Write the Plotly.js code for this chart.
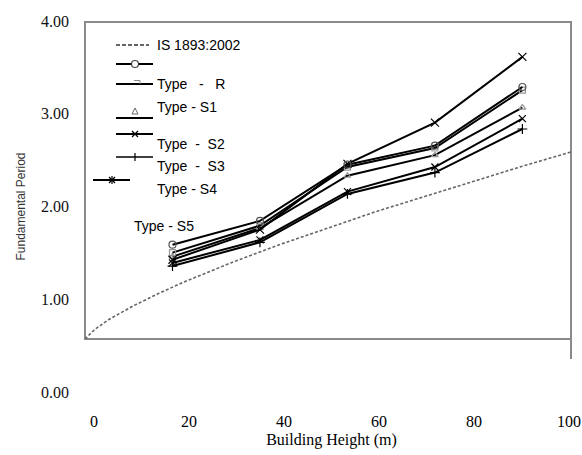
<!DOCTYPE html>
<html>
<head>
<meta charset="utf-8">
<script src="https://cdn.plot.ly/plotly-3.0.1.min.js"></script>
<style>html,body{margin:0;padding:0;background:#fff;}#chart{width:582px;height:455px;}</style>
</head>
<body>
<div id="chart"></div>
<script>
// ---- data ----
const heights = [18, 36, 54, 72, 90];
const typeR  = [1.19, 1.49, 2.20, 2.44, 3.18];
const typeS1 = [1.09, 1.43, 2.17, 2.41, 3.14];
const typeS2 = [1.04, 1.40, 2.06, 2.32, 2.92];
const typeS3 = [0.96, 1.25, 1.86, 2.17, 2.78];
const typeS4 = [0.92, 1.22, 1.83, 2.10, 2.65];
const typeS5 = [1.00, 1.38, 2.21, 2.73, 3.56];
const isHeights = [0, 2, 5, 10, 15, 20, 30, 40, 50, 60, 70, 80, 90, 100];
const isPeriod  = [0, 0.12, 0.25, 0.42, 0.57, 0.71, 0.96, 1.19, 1.40, 1.61, 1.80, 1.99, 2.18, 2.36];
const xTickVals = [0, 20, 40, 60, 80, 100];
const yTickVals = [0, 1, 2, 3, 4];
const yTickText = ['0.00', '1.00', '2.00', '3.00', '4.00'];
const legendLabels = ['IS 1893:2002', 'Type\u00a0\u00a0\u00a0-\u00a0\u00a0\u00a0R', 'Type - S1', 'Type\u00a0\u00a0-\u00a0\u00a0S2', 'Type\u00a0\u00a0-\u00a0\u00a0S3', 'Type - S4', 'Type - S5'];

const W = 582, H = 455;
const px = x => x / W;
const py = y => 1 - y / H;

// plot-area frame of the inner chart (pixels)
const box = {left: 85, right: 571, top: 22, bottom: 339};

function series(y, symbol, mcolor, msize) {
  return {
    x: heights, y: y, xaxis: 'x2', yaxis: 'y2', type: 'scatter', mode: 'lines+markers',
    line: {color: '#000', width: 2},
    marker: {symbol: symbol, size: msize, color: mcolor, line: {color: mcolor, width: 1.2}},
    showlegend: false, hoverinfo: 'skip'
  };
}

const data = [
  {x: [], y: [], xaxis: 'x', yaxis: 'y', type: 'scatter', showlegend: false},
  {x: isHeights, y: isPeriod, xaxis: 'x2', yaxis: 'y2', type: 'scatter', mode: 'lines',
   line: {color: '#666', width: 1.6, dash: '3px,2px'}, showlegend: false, hoverinfo: 'skip'},
  series(typeS4, 'cross-thin-open', '#000', 7),
  series(typeS3, 'x-thin-open', '#000', 7),
  series(typeS2, 'triangle-up-open', '#999', 6),
  series(typeS1, 'square-open', '#999', 6),
  series(typeS5, 'x-thin-open', '#000', 8),
  series(typeR, 'circle-open', '#555', 7)
];

// ---- frame and custom (misaligned) legend, built from shapes and annotations ----
const shapes = [];
const annotations = [];
function seg(x0, y0, x1, y1, color, width, dash) {
  shapes.push({type: 'line', xref: 'paper', yref: 'paper', x0: px(x0), y0: py(y0), x1: px(x1), y1: py(y1),
    line: {color: color, width: width, dash: dash || 'solid'}});
}
function label(x, y, text) {
  annotations.push({xref: 'paper', yref: 'paper', x: px(x), y: py(y), text: text, showarrow: false,
    xanchor: 'left', yanchor: 'middle', font: {family: 'Liberation Sans, Arial, sans-serif', size: 14, color: '#000'}});
}
// frame
shapes.push({type: 'rect', xref: 'paper', yref: 'paper', x0: px(box.left), x1: px(box.right), y0: py(box.bottom), y1: py(box.top),
  line: {color: '#8a8a8a', width: 2}, fillcolor: 'rgba(0,0,0,0)', layer: 'below'});
seg(box.right, box.bottom, box.right, box.bottom + 20, '#8a8a8a', 2);
// dashed sample
seg(116, 45, 149, 45, '#333', 1.6, '4px,2px');
label(155, 45, legendLabels[0]);
// circle sample
seg(116, 64, 153, 64, '#000', 2);
shapes.push({type: 'circle', xref: 'paper', yref: 'paper', x0: px(131.5), x1: px(138.5), y0: py(60.5), y1: py(67.5), line: {color: '#444', width: 1.2}, fillcolor: '#fff'});
// square-ish sample
seg(116, 84, 153, 84, '#000', 2);
seg(134, 80.5, 140, 80.5, '#888', 1);
seg(140, 80.5, 140, 84, '#888', 1);
label(155, 84, legendLabels[1]);
label(155, 107, legendLabels[2]);
// triangle sample
seg(116, 118, 153, 118, '#000', 2);
shapes.push({type: 'path', xref: 'paper', yref: 'paper', path: 'M' + px(132) + ',' + py(114) + ' L' + px(138) + ',' + py(114) + ' L' + px(135) + ',' + py(108) + ' Z', line: {color: '#666', width: 1}});
// x sample
seg(116, 134, 153, 134, '#000', 2);
seg(132, 131, 138, 137, '#000', 1.3);
seg(132, 137, 138, 131, '#000', 1.3);
label(155, 144, legendLabels[3]);
// + sample
seg(116, 157, 153, 157, '#000', 1.6);
seg(135, 153, 135, 161, '#000', 1.2);
label(155, 166, legendLabels[4]);
// asterisk sample
seg(93, 180, 130, 180, '#000', 2);
seg(109, 177, 115, 183, '#000', 1.3);
seg(109, 183, 115, 177, '#000', 1.3);
seg(112, 176, 112, 184, '#000', 1.2);
label(155, 189, legendLabels[5]);
label(132, 226, legendLabels[6]);

const layout = {
  width: W, height: H,
  margin: {l: 0, r: 0, t: 0, b: 0},
  paper_bgcolor: '#fff', plot_bgcolor: 'rgba(0,0,0,0)',
  showlegend: false,
  xaxis: {
    domain: [px(94), px(569)], range: [0, 100], anchor: 'y',
    tickvals: xTickVals, ticks: '', showline: false, showgrid: false, zeroline: false,
    ticklabelstandoff: 18, automargin: false,
    tickfont: {family: 'Liberation Serif, Times New Roman, serif', size: 16, color: '#000'},
    title: {text: 'Building Height (m)', standoff: 4, font: {family: 'Liberation Serif, Times New Roman, serif', size: 16, color: '#000'}}
  },
  yaxis: {
    domain: [py(392), py(21)], range: [0, 4], anchor: 'x',
    tickvals: yTickVals, ticktext: yTickText, ticks: '', showline: false, showgrid: false, zeroline: false,
    ticklabelstandoff: 24, automargin: false,
    tickfont: {family: 'Liberation Serif, Times New Roman, serif', size: 16, color: '#111'},
    title: {text: 'Fundamental Period', standoff: 12, font: {family: 'Liberation Sans, Arial, sans-serif', size: 12, color: '#333'}}
  },
  xaxis2: {
    domain: [px(box.left), px(box.right)], range: [0, 100], anchor: 'y2',
    showticklabels: false, ticks: '', showgrid: false, zeroline: false, showline: false
  },
  yaxis2: {
    domain: [py(box.bottom), py(box.top)], range: [0, 4], anchor: 'x2',
    showticklabels: false, ticks: '', showgrid: false, zeroline: false, showline: false
  },
  shapes: shapes,
  annotations: annotations
};

Plotly.newPlot('chart', data, layout, {displayModeBar: false, staticPlot: true});
</script>
</body>
</html>
